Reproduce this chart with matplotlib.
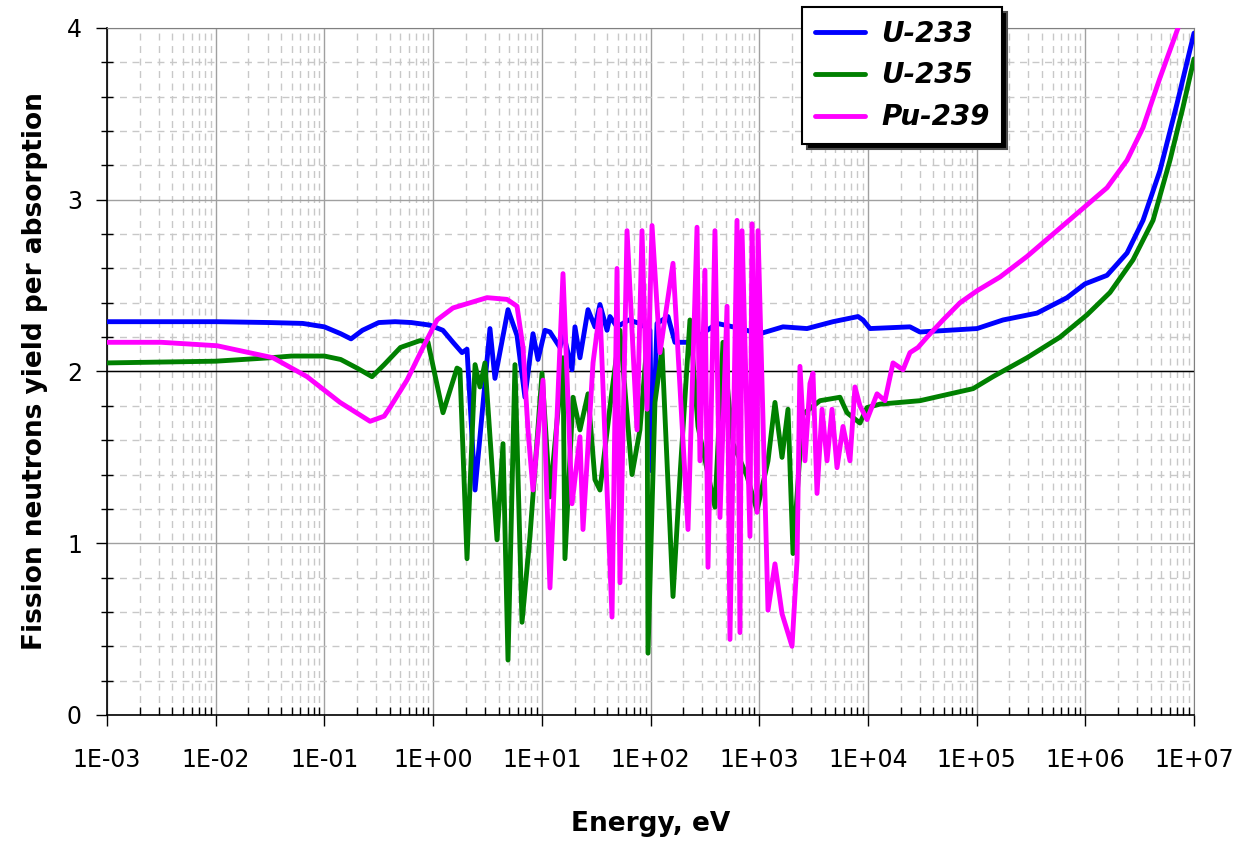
import numpy as np
import matplotlib
matplotlib.use("Agg")
from matplotlib import pyplot as plt
from matplotlib.ticker import FixedLocator, MultipleLocator, FuncFormatter

# values: log10(E / eV) and neutron yield per absorption
u233_logE = [-3.0, -2.0, -1.5, -1.2, -1.0, -0.85, -0.755, -0.65, -0.5, -0.35, -0.2, -0.03,
             0.09, 0.183, 0.266, 0.312, 0.386, 0.523, 0.569, 0.689, 0.772, 0.845, 0.919, 0.965,
             1.029, 1.075, 1.167, 1.195, 1.278, 1.305, 1.351, 1.425, 1.489, 1.535, 1.60, 1.627,
             1.692, 1.80, 1.90, 1.995, 2.014, 2.06, 2.161, 2.225, 2.363, 2.612, 2.759, 3.007,
             3.219, 3.44, 3.679, 3.909, 3.955, 4.019, 4.387, 4.479, 5.004, 5.243, 5.556, 5.832,
             5.997, 6.2, 6.384, 6.531, 6.687, 6.844, 7.0]
u233_nu = [2.29, 2.29, 2.285, 2.28, 2.26, 2.22, 2.19, 2.24, 2.285, 2.29, 2.285, 2.27,
           2.24, 2.17, 2.11, 2.13, 1.31, 2.25, 1.96, 2.36, 2.21, 1.85, 2.22, 2.07,
           2.24, 2.23, 2.14, 2.23, 2.01, 2.26, 2.08, 2.36, 2.26, 2.39, 2.24, 2.32,
           2.26, 2.30, 2.28, 2.24, 1.42, 2.28, 2.32, 2.17, 2.17, 2.28, 2.26, 2.22,
           2.26, 2.25, 2.29, 2.32, 2.30, 2.25, 2.26, 2.23, 2.25, 2.30, 2.34, 2.43,
           2.51, 2.56, 2.69, 2.88, 3.17, 3.56, 3.97]

u235_logE = [-3.0, -2.0, -1.5, -1.3, -1.0, -0.85, -0.7, -0.562, -0.45, -0.3, -0.12, -0.047,
             0.091, 0.22, 0.247, 0.312, 0.386, 0.431, 0.477, 0.588, 0.643, 0.689, 0.753, 0.818,
             0.891, 1.002, 1.075, 1.195, 1.213, 1.287, 1.351, 1.425, 1.489, 1.535, 1.646, 1.719,
             1.83, 1.903, 1.968, 1.977, 2.041, 2.106, 2.207, 2.271, 2.363, 2.437, 2.593, 2.667,
             2.759, 2.888, 2.98, 3.081, 3.145, 3.21, 3.265, 3.311, 3.40, 3.559, 3.743, 3.808,
             3.927, 3.992, 4.111, 4.479, 4.967, 5.151, 5.464, 5.767, 6.016, 6.227, 6.439, 6.623,
             6.779, 6.899, 7.0]
u235_nu = [2.05, 2.06, 2.08, 2.09, 2.09, 2.07, 2.02, 1.97, 2.04, 2.14, 2.18, 2.17,
           1.76, 2.02, 2.01, 0.91, 2.04, 1.91, 2.05, 1.02, 1.58, 0.32, 2.04, 0.54,
           1.04, 1.99, 1.27, 2.08, 0.91, 1.85, 1.66, 1.87, 1.37, 1.31, 1.89, 2.24,
           1.40, 1.66, 2.17, 0.36, 1.82, 2.13, 0.69, 1.39, 2.30, 1.68, 1.21, 2.17,
           1.58, 1.39, 1.19, 1.48, 1.82, 1.50, 1.78, 0.94, 1.75, 1.83, 1.85, 1.76,
           1.70, 1.79, 1.81, 1.83, 1.90, 1.97, 2.08, 2.20, 2.33, 2.46, 2.65, 2.88,
           3.23, 3.54, 3.82]

pu239_logE = [-3.0, -2.5, -1.988, -1.473, -1.16, -0.856, -0.58, -0.45, -0.397, -0.24, -0.093, 0.036,
              0.183, 0.339, 0.496, 0.68, 0.772, 0.827, 0.873, 0.919, 1.011, 1.075, 1.195, 1.278,
              1.351, 1.379, 1.471, 1.535, 1.646, 1.692, 1.719, 1.784, 1.876, 1.922, 1.968, 2.014,
              2.087, 2.207, 2.345, 2.428, 2.455, 2.501, 2.529, 2.593, 2.639, 2.704, 2.731, 2.796,
              2.823, 2.842, 2.915, 2.934, 2.98, 2.989, 3.081, 3.145, 3.21, 3.302, 3.348, 3.375,
              3.421, 3.467, 3.495, 3.532, 3.578, 3.624, 3.67, 3.716, 3.771, 3.835, 3.881, 3.927,
              3.992, 4.084, 4.157, 4.231, 4.323, 4.387, 4.461, 4.544, 4.691, 4.847, 5.004, 5.215,
              5.464, 5.703, 5.979, 6.2, 6.384, 6.531, 6.687, 6.853, 6.95]
pu239_nu = [2.17, 2.17, 2.15, 2.08, 1.97, 1.82, 1.71, 1.74, 1.79, 1.95, 2.14, 2.30,
            2.37, 2.40, 2.43, 2.42, 2.38, 2.14, 1.66, 1.31, 1.95, 0.74, 2.57, 1.23,
            1.62, 1.08, 2.05, 2.36, 0.57, 2.60, 0.77, 2.82, 1.66, 2.82, 1.78, 2.85,
            2.11, 2.63, 1.08, 2.84, 1.48, 2.59, 0.86, 2.82, 1.15, 2.38, 0.44, 2.88,
            0.48, 2.82, 1.04, 2.86, 1.18, 2.82, 0.61, 0.88, 0.59, 0.40, 0.90, 2.03,
            1.48, 1.93, 1.99, 1.29, 1.78, 1.48, 1.78, 1.44, 1.68, 1.48, 1.91, 1.80,
            1.72, 1.87, 1.83, 2.05, 2.01, 2.11, 2.14, 2.20, 2.30, 2.40, 2.47, 2.55,
            2.67, 2.80, 2.95, 3.07, 3.23, 3.42, 3.71, 4.0, 4.2]

decades = list(range(-3, 8))

series = [("U-233", u233_logE, u233_nu, "#0000ff"),
          ("U-235", u235_logE, u235_nu, "#008000"),
          ("Pu-239", pu239_logE, pu239_nu, "#ff00ff")]

plt.rcParams['font.family'] = ['DejaVu Sans']

fig = plt.figure(figsize=(12.39, 8.42), dpi=100)
ax = fig.add_axes([107/1239, 127/842, (1194-107)/1239, (715-28)/842])

for name, logE, nu, col in series:
    ax.plot(10.0**np.array(logE), nu, color=col, lw=3.5, label=name,
            solid_joinstyle='round', solid_capstyle='round', zorder=3)

ax.set_xscale('log')
ax.set_xlim(1e-3, 1e7)
ax.set_ylim(0, 4)

# ticks only inside the shown range
major_x = [10.0**k for k in decades]
minor_x = [m * 10.0**k for k in decades[:-1] for m in range(2, 10)]
ax.xaxis.set_major_locator(FixedLocator(major_x))
ax.xaxis.set_minor_locator(FixedLocator(minor_x))
ax.xaxis.set_major_formatter(FuncFormatter(lambda v, p: "1E{:+03d}".format(int(round(np.log10(v))))))
ax.yaxis.set_major_locator(MultipleLocator(1))
ax.yaxis.set_minor_locator(MultipleLocator(0.2))

ax.grid(which='major', color='#a0a0a0', lw=1.0, zorder=1)
ax.grid(which='minor', color='#c8c8c8', lw=1.0, linestyle=(0, (5, 4)), zorder=1)
ax.axhline(2, color='black', lw=1.0, zorder=2)
ax.set_axisbelow(True)

ax.tick_params(axis='x', which='major', direction='out', length=8, width=1, labelsize=17, pad=16)
ax.tick_params(axis='x', which='minor', direction='in', length=6, width=1)
ax.tick_params(axis='y', which='major', direction='out', length=8, width=1, labelsize=17, pad=10)
ax.tick_params(axis='y', which='minor', direction='inout', length=8, width=1)

for s in ['left', 'bottom']:
    ax.spines[s].set_color('black')
    ax.spines[s].set_linewidth(1.2)
for s in ['top', 'right']:
    ax.spines[s].set_color('#808080')

ax.set_xlabel("Energy, eV", fontsize=19, fontweight='bold', labelpad=28)
ax.set_ylabel("Fission neutrons yield per absorption", fontsize=19, fontweight='bold', labelpad=14)

leg = ax.legend(loc='upper left', bbox_to_anchor=(802/1239, 1 - 7/842), bbox_transform=fig.transFigure,
                borderaxespad=0, fancybox=False, framealpha=1, edgecolor='black',
                shadow={'ox': 3.5, 'oy': -3.5, 'facecolor': 'black', 'alpha': 1},
                prop={'size': 20, 'weight': 'bold', 'style': 'italic'},
                handlelength=1.8, handletextpad=0.6, labelspacing=0.5, borderpad=0.45)
leg.get_frame().set_linewidth(1.5)
leg.set_zorder(10)

fig.savefig("out.png", dpi=100)
